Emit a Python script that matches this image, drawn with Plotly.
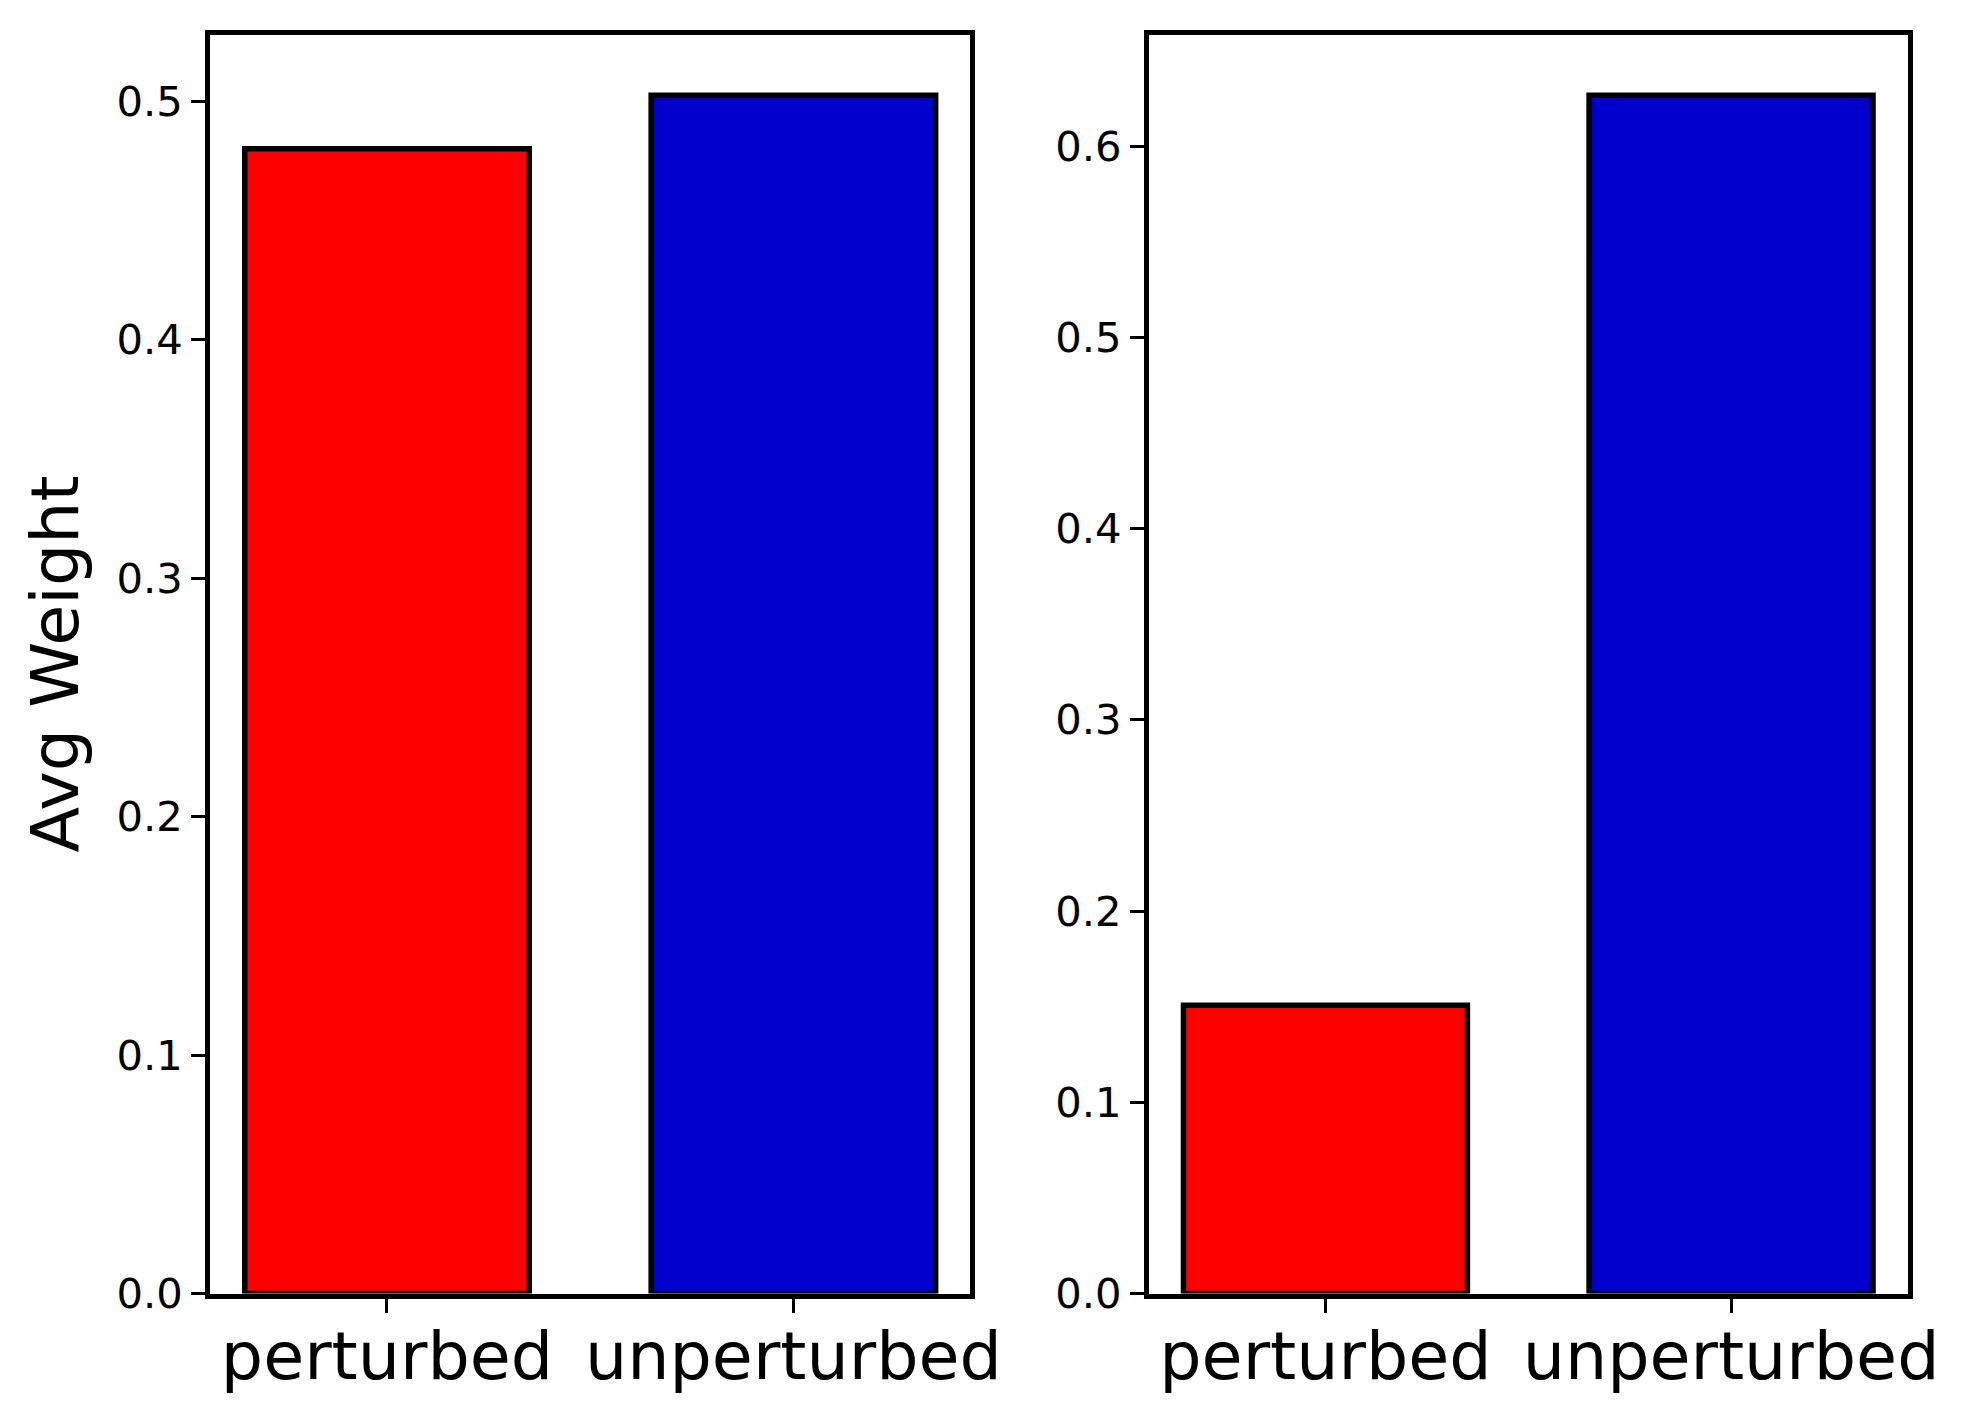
import plotly.graph_objects as go
from plotly.subplots import make_subplots

categories = ["perturbed", "unperturbed"]
left_values = [0.48, 0.5025]
right_values = [0.1507, 0.6266]
bar_colors = ["#ff0000", "#0000cd"]
left_ticks = [0.0, 0.1, 0.2, 0.3, 0.4, 0.5]
right_ticks = [0.0, 0.1, 0.2, 0.3, 0.4, 0.5, 0.6]
y_title = "Avg Weight"

# page body has an 8px margin; size the figure so it fits the window exactly
OFF = 8
W, H = 1970 - OFF, 1421 - OFF
FONT = "DejaVu Sans"
LW = 5


def px_x(v):
    return (v - OFF) / W


def px_y(v):
    return 1 - (v - OFF) / H


fig = make_subplots(rows=1, cols=2)
for col, vals in ((1, left_values), (2, right_values)):
    fig.add_trace(go.Bar(x=categories, y=vals, width=0.7,
                         marker=dict(color=bar_colors, line=dict(color="black", width=5.5)),
                         showlegend=False), row=1, col=col)

ins = LW / 2
ydom = [px_y(1296 - ins), px_y(32.8 + ins)]
axis_common = dict(showline=True, linecolor="black", linewidth=LW, mirror=True,
                   ticks="outside", ticklen=14, tickwidth=3.3, tickcolor="black",
                   showgrid=False, zeroline=False, automargin=False)

fig.update_xaxes(**axis_common, range=[-0.435, 1.435],
                 tickfont=dict(family=FONT, size=66.7, color="black"),
                 ticklabelstandoff=-14)
fig.update_yaxes(**axis_common, tickformat=".1f",
                 tickfont=dict(family=FONT, size=41.7, color="black"),
                 ticklabelstandoff=0, domain=ydom)

fig.update_layout(
    width=W, height=H, margin=dict(l=0, r=0, t=0, b=0),
    plot_bgcolor="white", paper_bgcolor="white",
    xaxis=dict(domain=[px_x(207.7 + ins), px_x(972.7 - ins)]),
    xaxis2=dict(domain=[px_x(1146.5 + ins), px_x(1910 - ins)]),
    yaxis=dict(range=[0, max(left_values) * 1.05], tickvals=left_ticks),
    yaxis2=dict(range=[0, max(right_values) * 1.05], tickvals=right_ticks),
    bargap=0.3,
)

fig.add_annotation(text=y_title, textangle=-90, xref="paper", yref="paper",
                   x=47 / W, y=(ydom[0] + ydom[1]) / 2, xanchor="center", yanchor="middle",
                   showarrow=False, font=dict(family=FONT, size=66.7, color="black"))

fig.write_html("out.html")
